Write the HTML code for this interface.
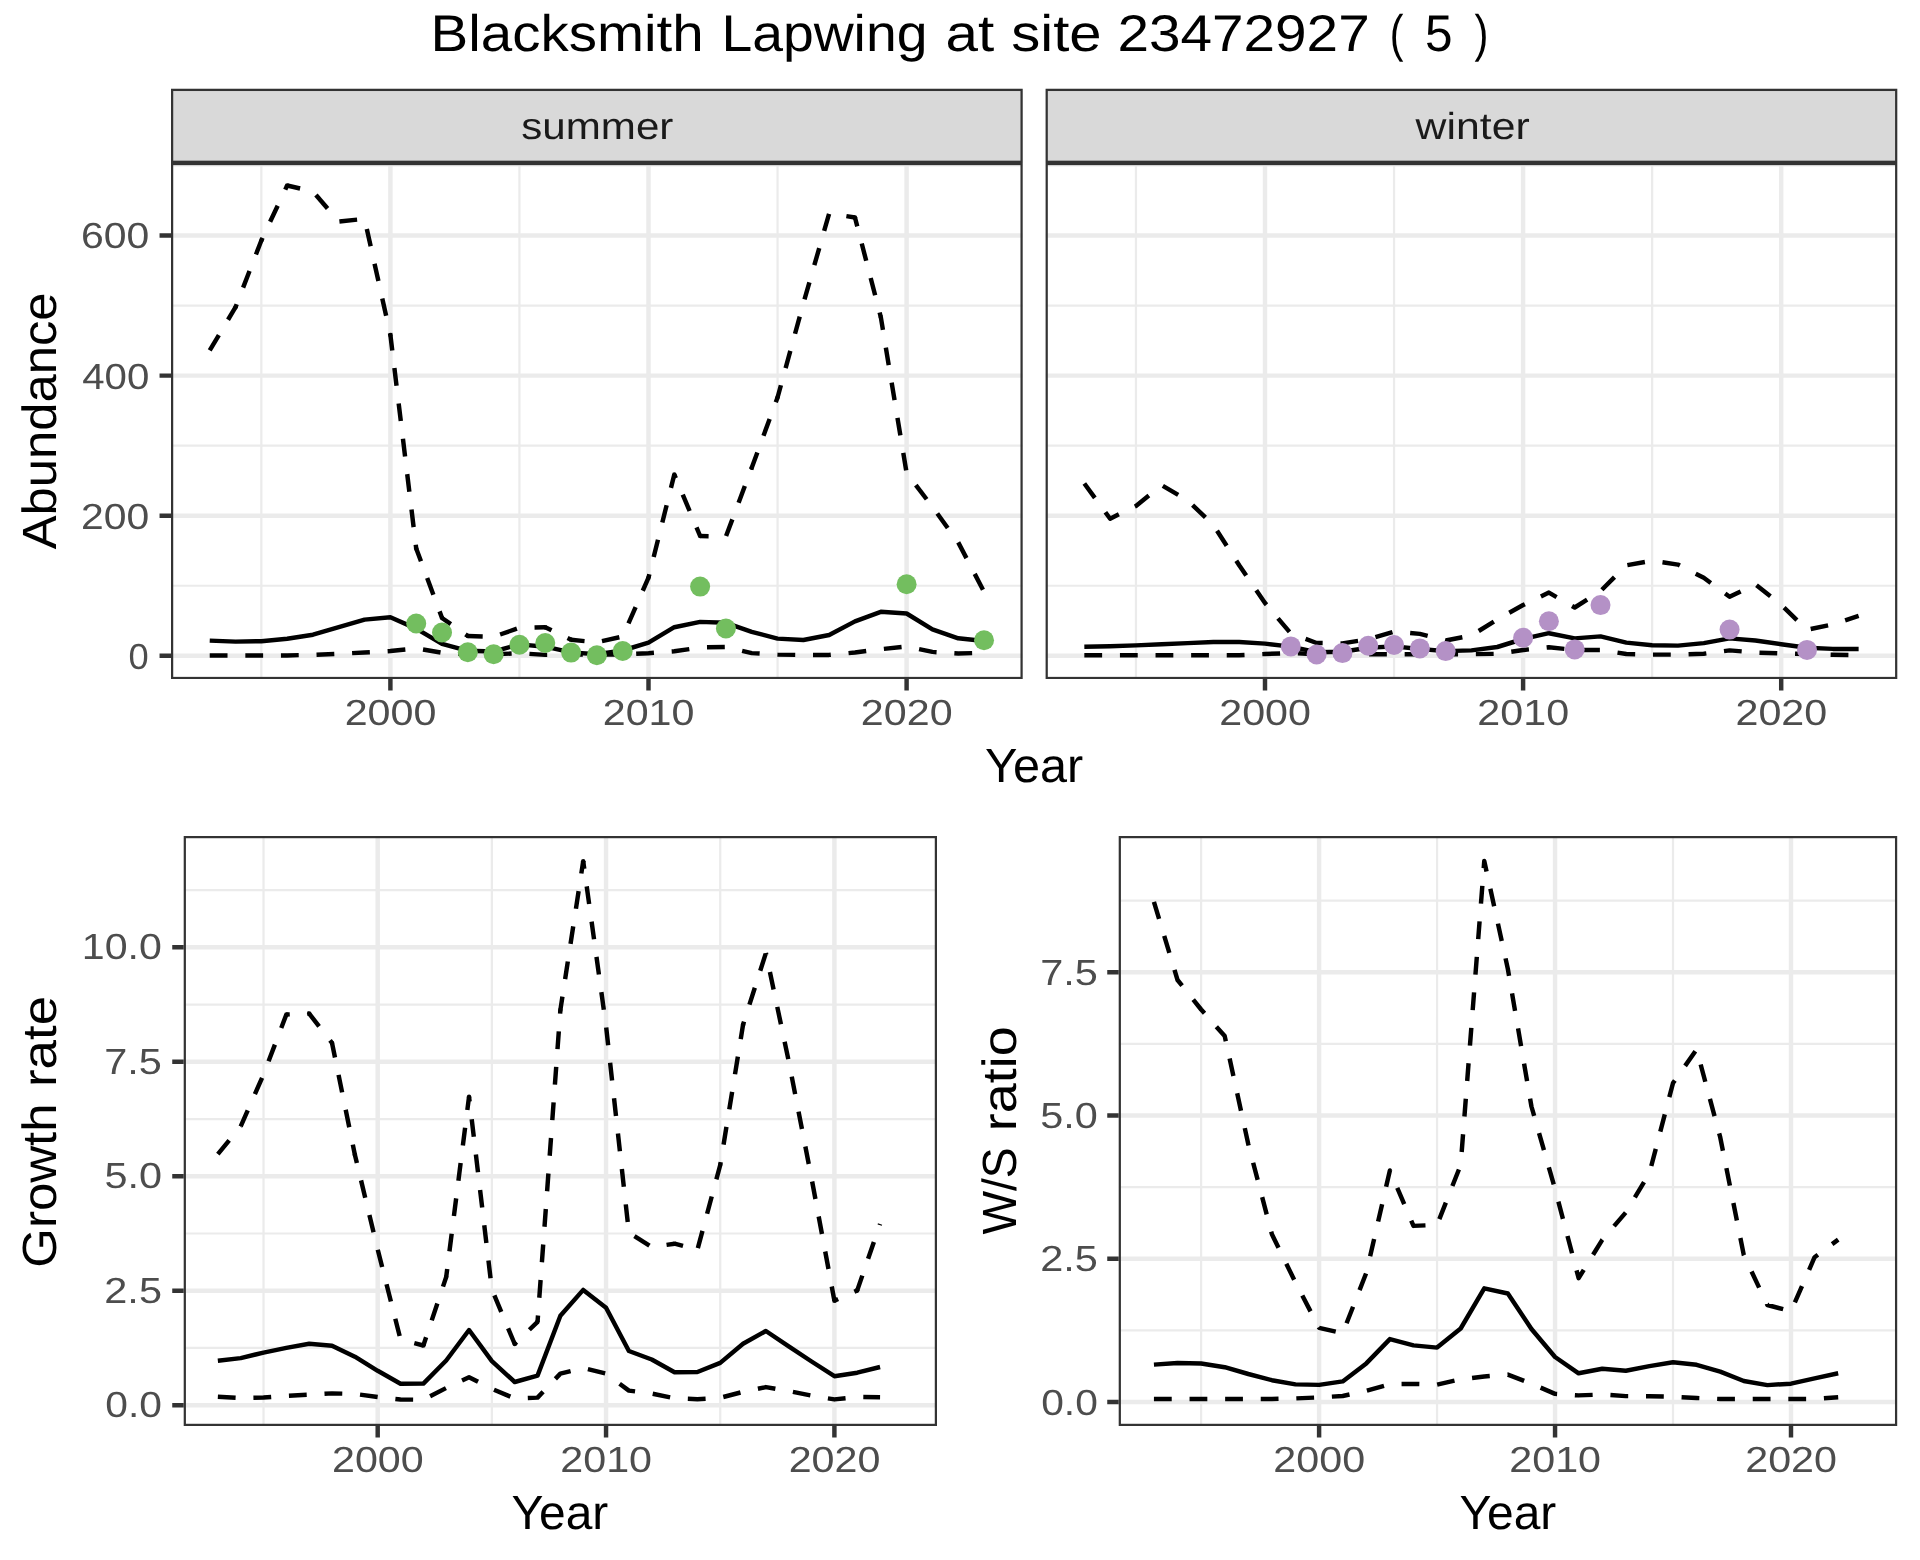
<!DOCTYPE html><html><head><meta charset="utf-8"><title>Blacksmith Lapwing at site 23472927</title>
<style>html,body{margin:0;padding:0;background:#fff;}svg{display:block;}text{font-family:'Liberation Sans',sans-serif;text-rendering:geometricPrecision;}</style></head><body>
<svg xmlns="http://www.w3.org/2000/svg" width="1920" height="1560" viewBox="0 0 1920 1560" style="will-change:transform">
<rect x="0" y="0" width="1920" height="1560" fill="#fff"/>
<defs>
<clipPath id="cTL"><rect x="171" y="162.9" width="851.7" height="516.2"/></clipPath>
<clipPath id="cTR"><rect x="1045.6" y="162.9" width="851.7" height="516.2"/></clipPath>
<clipPath id="cBL"><rect x="183.7" y="836" width="753.3" height="590"/></clipPath>
<clipPath id="cBR"><rect x="1118.7" y="836" width="778.5" height="590"/></clipPath>
<clipPath id="sTL"><rect x="171.0" y="88.8" width="851.7" height="74.1"/></clipPath>
<clipPath id="sTR"><rect x="1045.6" y="88.8" width="851.7" height="74.1"/></clipPath>
</defs>
<g clip-path="url(#cTL)">
<rect x="171" y="162.9" width="851.7" height="516.2" fill="#fff"/>
<path d="M261.35 162.9V679.1M519.45 162.9V679.1M777.55 162.9V679.1M171 585.75H1022.7M171 445.65H1022.7M171 305.55H1022.7M171 165.45H1022.7" stroke="#EBEBEB" stroke-width="2.23" fill="none"/>
<path d="M390.4 162.9V679.1M648.5 162.9V679.1M906.6 162.9V679.1M171 655.8H1022.7M171 515.7H1022.7M171 375.6H1022.7M171 235.5H1022.7" stroke="#EBEBEB" stroke-width="4.45" fill="none"/>
</g>
<g clip-path="url(#cTR)">
<rect x="1045.6" y="162.9" width="851.7" height="516.2" fill="#fff"/>
<path d="M1135.95 162.9V679.1M1394.05 162.9V679.1M1652.15 162.9V679.1M1045.6 585.75H1897.3M1045.6 445.65H1897.3M1045.6 305.55H1897.3M1045.6 165.45H1897.3" stroke="#EBEBEB" stroke-width="2.23" fill="none"/>
<path d="M1265 162.9V679.1M1523.1 162.9V679.1M1781.2 162.9V679.1M1045.6 655.8H1897.3M1045.6 515.7H1897.3M1045.6 375.6H1897.3M1045.6 235.5H1897.3" stroke="#EBEBEB" stroke-width="4.45" fill="none"/>
</g>
<g clip-path="url(#cBL)">
<rect x="183.7" y="836" width="753.3" height="590" fill="#fff"/>
<path d="M263.52 836V1426M491.88 836V1426M720.23 836V1426M183.7 1347.96H937M183.7 1233.49H937M183.7 1119.01H937M183.7 1004.54H937M183.7 890.06H937" stroke="#EBEBEB" stroke-width="2.23" fill="none"/>
<path d="M377.7 836V1426M606.05 836V1426M834.4 836V1426M183.7 1405.2H937M183.7 1290.73H937M183.7 1176.25H937M183.7 1061.78H937M183.7 947.3H937" stroke="#EBEBEB" stroke-width="4.45" fill="none"/>
</g>
<g clip-path="url(#cBR)">
<rect x="1118.7" y="836" width="778.5" height="590" fill="#fff"/>
<path d="M1201.12 836V1426M1437.07 836V1426M1673.02 836V1426M1118.7 1330.36H1897.2M1118.7 1187.09H1897.2M1118.7 1043.81H1897.2M1118.7 900.54H1897.2" stroke="#EBEBEB" stroke-width="2.23" fill="none"/>
<path d="M1319.1 836V1426M1555.05 836V1426M1791 836V1426M1118.7 1402H1897.2M1118.7 1258.72H1897.2M1118.7 1115.45H1897.2M1118.7 972.17H1897.2" stroke="#EBEBEB" stroke-width="4.45" fill="none"/>
</g>
<g clip-path="url(#cTL)">
<polyline points="209.73,640.6 235.54,641.6 261.35,641.2 287.16,638.7 312.97,634.7 338.78,627.2 364.59,619.6 390.4,617.3 416.21,628.6 442.02,643.9 467.83,650.8 493.64,651.5 519.45,644.4 545.26,646.7 571.07,652.4 596.88,654.2 622.69,650.5 648.5,642.6 674.31,627.2 700.12,621.9 725.93,622.8 751.74,631.8 777.55,638.6 803.36,640 829.17,635 854.98,621.4 880.79,611.8 906.6,613.5 932.41,629.4 958.22,638.3 984.03,641" fill="none" stroke="#000" stroke-width="4.45" stroke-linejoin="round" stroke-linecap="butt"/>
<g fill="none" stroke="#000" stroke-width="4.45" stroke-linecap="butt" stroke-dasharray="17.8 17.8"><path d="M209.73 350.3L235.54 307.2" stroke-dashoffset="0.00"/><path d="M235.54 307.2L261.35 240.5" stroke-dashoffset="14.64"/><path d="M261.35 240.5L287.16 185.5" stroke-dashoffset="14.96"/><path d="M287.16 185.5L312.97 191.5" stroke-dashoffset="4.51"/><path d="M312.97 191.5L338.78 221.5" stroke-dashoffset="31.01"/><path d="M338.78 221.5L364.59 218.9" stroke-dashoffset="34.98"/><path d="M364.59 218.9L390.4 335" stroke-dashoffset="25.33"/><path d="M390.4 335L416.21 548.5" stroke-dashoffset="2.27"/><path d="M416.21 548.5L442.02 618" stroke-dashoffset="4.11"/><path d="M442.02 618L467.83 636" stroke-dashoffset="7.05"/><path d="M467.83 636L493.64 636.8" stroke-dashoffset="2.92"/><path d="M493.64 636.8L519.45 627.7" stroke-dashoffset="28.74"/><path d="M519.45 627.7L545.26 627.2" stroke-dashoffset="20.51"/><path d="M545.26 627.2L571.07 639.8" stroke-dashoffset="10.81"/><path d="M571.07 639.8L596.88 642.3" stroke-dashoffset="4.26"/><path d="M596.88 642.3L622.69 636.5" stroke-dashoffset="30.37"/><path d="M622.69 636.5L648.5 577.7" stroke-dashoffset="21.23"/><path d="M648.5 577.7L674.31 474.5" stroke-dashoffset="14.24"/><path d="M674.31 474.5L700.12 536" stroke-dashoffset="13.82"/><path d="M700.12 536L725.93 536.5" stroke-dashoffset="9.32"/><path d="M725.93 536.5L751.74 467.7" stroke-dashoffset="35.13"/><path d="M751.74 467.7L777.55 397.5" stroke-dashoffset="1.53"/><path d="M777.55 397.5L803.36 303.4" stroke-dashoffset="5.10"/><path d="M803.36 303.4L829.17 213.5" stroke-dashoffset="31.46"/><path d="M829.17 213.5L854.98 217.5" stroke-dashoffset="18.18"/><path d="M854.98 217.5L880.79 317" stroke-dashoffset="8.69"/><path d="M880.79 317L906.6 473" stroke-dashoffset="4.66"/><path d="M906.6 473L932.41 506.8" stroke-dashoffset="20.37"/><path d="M932.41 506.8L958.22 542.4" stroke-dashoffset="27.29"/><path d="M958.22 542.4L984.03 591.7" stroke-dashoffset="0.05"/></g>
<circle cx="235.54" cy="307.2" r="2.23" fill="#000"/>
<circle cx="261.35" cy="240.5" r="2.23" fill="#000"/>
<circle cx="287.16" cy="185.5" r="2.23" fill="#000"/>
<circle cx="390.4" cy="335" r="2.23" fill="#000"/>
<circle cx="416.21" cy="548.5" r="2.23" fill="#000"/>
<circle cx="442.02" cy="618" r="2.23" fill="#000"/>
<circle cx="467.83" cy="636" r="2.23" fill="#000"/>
<circle cx="545.26" cy="627.2" r="2.23" fill="#000"/>
<circle cx="571.07" cy="639.8" r="2.23" fill="#000"/>
<circle cx="648.5" cy="577.7" r="2.23" fill="#000"/>
<circle cx="674.31" cy="474.5" r="2.23" fill="#000"/>
<circle cx="700.12" cy="536" r="2.23" fill="#000"/>
<circle cx="751.74" cy="467.7" r="2.23" fill="#000"/>
<circle cx="777.55" cy="397.5" r="2.23" fill="#000"/>
<circle cx="854.98" cy="217.5" r="2.23" fill="#000"/>
<circle cx="880.79" cy="317" r="2.23" fill="#000"/>
<polyline points="209.73,655.5 235.54,655.5 261.35,655.5 287.16,655.4 312.97,654.8 338.78,653.8 364.59,652.5 390.4,651 416.21,648.4 442.02,652.8 467.83,654.5 493.64,654.3 519.45,653.2 545.26,654.9 571.07,654.5 596.88,654.5 622.69,654.5 648.5,653.2 674.31,651.3 700.12,647.5 725.93,646.9 751.74,653.1 777.55,654.6 803.36,655 829.17,654.9 854.98,652.5 880.79,649.2 906.6,646.5 932.41,651.9 958.22,653.5 984.03,652.8" fill="none" stroke="#000" stroke-width="4.45" stroke-linejoin="round" stroke-linecap="butt" stroke-dasharray="17.8 17.8"/>
<circle cx="416.21" cy="623.5" r="10" fill="#73BE5F"/>
<circle cx="442.02" cy="632.5" r="10" fill="#73BE5F"/>
<circle cx="467.83" cy="652.2" r="10" fill="#73BE5F"/>
<circle cx="493.64" cy="654.2" r="10" fill="#73BE5F"/>
<circle cx="519.45" cy="644.7" r="10" fill="#73BE5F"/>
<circle cx="545.26" cy="643" r="10" fill="#73BE5F"/>
<circle cx="571.07" cy="652.6" r="10" fill="#73BE5F"/>
<circle cx="596.88" cy="655.2" r="10" fill="#73BE5F"/>
<circle cx="622.69" cy="651" r="10" fill="#73BE5F"/>
<circle cx="700.12" cy="586.6" r="10" fill="#73BE5F"/>
<circle cx="725.93" cy="628.5" r="10" fill="#73BE5F"/>
<circle cx="906.6" cy="584.2" r="10" fill="#73BE5F"/>
<circle cx="984.03" cy="640.2" r="10" fill="#73BE5F"/>
</g>
<rect clip-path="url(#cTL)" x="171" y="162.9" width="851.7" height="516.2" fill="none" stroke="#333333" stroke-width="4.45"/>
<g clip-path="url(#cTR)">
<polyline points="1084.33,646.7 1110.14,646.3 1135.95,645.4 1161.76,644.3 1187.57,643.1 1213.38,642 1239.19,642 1265,643.6 1290.81,646.6 1316.62,652.2 1342.43,651.8 1368.24,647.7 1394.05,646.4 1419.86,649 1445.67,651.1 1471.48,650.4 1497.29,647 1523.1,639 1548.91,633.2 1574.72,638.4 1600.53,636.4 1626.34,642.6 1652.15,645.2 1677.96,645.6 1703.77,643.1 1729.58,638.4 1755.39,640.5 1781.2,644.2 1807.01,647.8 1832.82,648.9 1858.63,648.9" fill="none" stroke="#000" stroke-width="4.45" stroke-linejoin="round" stroke-linecap="butt"/>
<polyline points="1084.33,483.5 1110.14,518.7 1135.95,505.9 1161.76,485.2 1187.57,500.3 1213.38,525.1 1239.19,565.2 1265,603 1290.81,633.5 1316.62,643 1342.43,643.4 1368.24,639.3 1394.05,631.6 1419.86,633.9 1445.67,640.5 1471.48,635.5 1497.29,619.5 1523.1,605 1548.91,592.6 1574.72,607.5 1600.53,591.1 1626.34,565.3 1652.15,560.8 1677.96,564.6 1703.77,577.8 1729.58,596.8 1755.39,584.3 1781.2,604.9 1807.01,629.8 1832.82,624.4 1858.63,615.8" fill="none" stroke="#000" stroke-width="4.45" stroke-linejoin="round" stroke-linecap="butt" stroke-dasharray="17.8 17.8"/>
<polyline points="1084.33,655.2 1110.14,655.2 1135.95,655.2 1161.76,655.2 1187.57,655.2 1213.38,655.2 1239.19,655.2 1265,654 1290.81,653 1316.62,654.2 1342.43,654.2 1368.24,654.2 1394.05,654.2 1419.86,654.2 1445.67,654.2 1471.48,654.2 1497.29,653.8 1523.1,650 1548.91,647.3 1574.72,649.9 1600.53,649.9 1626.34,654 1652.15,654.6 1677.96,654.6 1703.77,653.75 1729.58,650.4 1755.39,652.5 1781.2,653.5 1807.01,654 1832.82,654.8 1858.63,655.1" fill="none" stroke="#000" stroke-width="4.45" stroke-linejoin="round" stroke-linecap="butt" stroke-dasharray="17.8 17.8"/>
<circle cx="1290.81" cy="646.4" r="10" fill="#B491C6"/>
<circle cx="1316.62" cy="654.5" r="10" fill="#B491C6"/>
<circle cx="1342.43" cy="653.1" r="10" fill="#B491C6"/>
<circle cx="1368.24" cy="645.7" r="10" fill="#B491C6"/>
<circle cx="1394.05" cy="645" r="10" fill="#B491C6"/>
<circle cx="1419.86" cy="648.4" r="10" fill="#B491C6"/>
<circle cx="1445.67" cy="651.1" r="10" fill="#B491C6"/>
<circle cx="1523.1" cy="637.7" r="10" fill="#B491C6"/>
<circle cx="1548.91" cy="621.3" r="10" fill="#B491C6"/>
<circle cx="1574.72" cy="649.4" r="10" fill="#B491C6"/>
<circle cx="1600.53" cy="605.1" r="10" fill="#B491C6"/>
<circle cx="1729.58" cy="629.6" r="10" fill="#B491C6"/>
<circle cx="1807.01" cy="649.9" r="10" fill="#B491C6"/>
</g>
<rect clip-path="url(#cTR)" x="1045.6" y="162.9" width="851.7" height="516.2" fill="none" stroke="#333333" stroke-width="4.45"/>
<g clip-path="url(#cBL)">
<polyline points="217.85,1360.8 240.69,1358.1 263.52,1352.6 286.36,1347.9 309.19,1343.7 332.03,1345.7 354.87,1356.7 377.7,1370.8 400.53,1383.8 423.37,1383.6 446.2,1360.5 469.04,1330 491.88,1361.1 514.71,1382 537.54,1375.6 560.38,1315.7 583.22,1289.9 606.05,1307.7 628.88,1351 651.72,1359.5 674.56,1372.3 697.39,1372 720.23,1362.9 743.06,1343.7 765.89,1331 788.73,1346.3 811.57,1361.5 834.4,1376.2 857.24,1372.7 880.07,1367" fill="none" stroke="#000" stroke-width="4.45" stroke-linejoin="round" stroke-linecap="butt"/>
<g fill="none" stroke="#000" stroke-width="4.45" stroke-linecap="butt" stroke-dasharray="17.8 17.8"><path d="M217.85 1154.1L240.69 1126.4" stroke-dashoffset="0.00"/><path d="M240.69 1126.4L263.52 1074.5" stroke-dashoffset="0.30"/><path d="M263.52 1074.5L286.36 1014.5" stroke-dashoffset="21.40"/><path d="M286.36 1014.5L309.19 1013.6" stroke-dashoffset="14.40"/><path d="M309.19 1013.6L332.03 1043" stroke-dashoffset="1.65"/><path d="M332.03 1043L354.87 1154.7" stroke-dashoffset="3.04"/><path d="M354.87 1154.7L377.7 1249.5" stroke-dashoffset="9.19"/><path d="M377.7 1249.5L400.53 1339.5" stroke-dashoffset="35.30"/><path d="M400.53 1339.5L423.37 1345.5" stroke-dashoffset="21.35"/><path d="M423.37 1345.5L446.2 1277" stroke-dashoffset="9.15"/><path d="M446.2 1277L469.04 1096.7" stroke-dashoffset="9.76"/><path d="M469.04 1096.7L491.88 1289.5" stroke-dashoffset="12.96"/><path d="M491.88 1289.5L514.71 1344" stroke-dashoffset="29.13"/><path d="M514.71 1344L537.54 1321.8" stroke-dashoffset="15.15"/><path d="M537.54 1321.8L560.38 1010" stroke-dashoffset="11.47"/><path d="M560.38 1010L583.22 861.2" stroke-dashoffset="4.33"/><path d="M583.22 861.2L606.05 1026" stroke-dashoffset="10.17"/><path d="M606.05 1026L628.88 1232.5" stroke-dashoffset="34.14"/><path d="M628.88 1232.5L651.72 1247.1" stroke-dashoffset="29.00"/><path d="M651.72 1247.1L674.56 1243.7" stroke-dashoffset="20.61"/><path d="M674.56 1243.7L697.39 1249.8" stroke-dashoffset="9.05"/><path d="M697.39 1249.8L720.23 1165" stroke-dashoffset="33.83"/><path d="M720.23 1165L743.06 1024.7" stroke-dashoffset="14.85"/><path d="M743.06 1024.7L765.89 953" stroke-dashoffset="14.60"/><path d="M765.89 953L788.73 1061.2" stroke-dashoffset="16.13"/><path d="M788.73 1061.2L811.57 1178.4" stroke-dashoffset="19.88"/><path d="M811.57 1178.4L834.4 1300.7" stroke-dashoffset="32.44"/><path d="M834.4 1300.7L857.24 1290.4" stroke-dashoffset="13.71"/><path d="M857.24 1290.4L880.07 1224" stroke-dashoffset="2.20"/></g>
<circle cx="286.36" cy="1014.5" r="2.23" fill="#000"/>
<circle cx="309.19" cy="1013.6" r="2.23" fill="#000"/>
<circle cx="332.03" cy="1043" r="2.23" fill="#000"/>
<circle cx="354.87" cy="1154.7" r="2.23" fill="#000"/>
<circle cx="423.37" cy="1345.5" r="2.23" fill="#000"/>
<circle cx="446.2" cy="1277" r="2.23" fill="#000"/>
<circle cx="469.04" cy="1096.7" r="2.23" fill="#000"/>
<circle cx="514.71" cy="1344" r="2.23" fill="#000"/>
<circle cx="537.54" cy="1321.8" r="2.23" fill="#000"/>
<circle cx="560.38" cy="1010" r="2.23" fill="#000"/>
<circle cx="583.22" cy="861.2" r="2.23" fill="#000"/>
<circle cx="674.56" cy="1243.7" r="2.23" fill="#000"/>
<circle cx="720.23" cy="1165" r="2.23" fill="#000"/>
<circle cx="743.06" cy="1024.7" r="2.23" fill="#000"/>
<circle cx="834.4" cy="1300.7" r="2.23" fill="#000"/>
<circle cx="857.24" cy="1290.4" r="2.23" fill="#000"/>
<polyline points="217.85,1396.7 240.69,1398 263.52,1397.5 286.36,1395.8 309.19,1394.7 332.03,1393.4 354.87,1393.9 377.7,1397 400.53,1399.5 423.37,1399.7 446.2,1388 469.04,1377.3 491.88,1388.8 514.71,1398.5 537.54,1397.6 560.38,1373.6 583.22,1368 606.05,1373.6 628.88,1390.6 651.72,1393.5 674.56,1398.3 697.39,1399.2 720.23,1397.8 743.06,1391.8 765.89,1387.1 788.73,1391.1 811.57,1395.6 834.4,1399.4 857.24,1397 880.07,1397.3" fill="none" stroke="#000" stroke-width="4.45" stroke-linejoin="round" stroke-linecap="butt" stroke-dasharray="17.8 17.8"/>
</g>
<rect clip-path="url(#cBL)" x="183.7" y="836" width="753.3" height="590" fill="none" stroke="#333333" stroke-width="4.45"/>
<g clip-path="url(#cBR)">
<polyline points="1153.93,1364.6 1177.53,1363 1201.12,1363.5 1224.72,1367.2 1248.31,1374 1271.91,1380.2 1295.5,1384.4 1319.1,1384.9 1342.69,1381.4 1366.29,1363.4 1389.88,1339.1 1413.48,1345.4 1437.07,1347.6 1460.67,1328.5 1484.26,1288.3 1507.86,1293.5 1531.45,1329 1555.05,1357 1578.64,1373.3 1602.24,1368.7 1625.84,1370.7 1649.43,1366.1 1673.02,1362.2 1696.62,1364.8 1720.21,1371.6 1743.81,1381 1767.4,1385.1 1791,1383.7 1814.59,1378.3 1838.19,1373.3" fill="none" stroke="#000" stroke-width="4.45" stroke-linejoin="round" stroke-linecap="butt"/>
<polyline points="1153.93,901.8 1177.53,980 1201.12,1009.5 1224.72,1036.1 1248.31,1144.3 1271.91,1234.3 1295.5,1282.5 1319.1,1327.8 1342.69,1333.2 1366.29,1272.9 1389.88,1170.5 1413.48,1225.9 1437.07,1224.9 1460.67,1165 1484.26,861 1507.86,969 1531.45,1106.5 1555.05,1189 1578.64,1278.2 1602.24,1239.8 1625.84,1212.4 1649.43,1173.1 1673.02,1083 1696.62,1049.5 1720.21,1137.2 1743.81,1255.1 1767.4,1305 1791,1311.3 1814.59,1257.2 1838.19,1239.6" fill="none" stroke="#000" stroke-width="4.45" stroke-linejoin="round" stroke-linecap="butt" stroke-dasharray="17.8 17.8"/>
<polyline points="1153.93,1399 1177.53,1399 1201.12,1399 1224.72,1399 1248.31,1399 1271.91,1399 1295.5,1398.4 1319.1,1397.4 1342.69,1396 1366.29,1390.9 1389.88,1384.1 1413.48,1383.9 1437.07,1384.6 1460.67,1379.3 1484.26,1376.5 1507.86,1374.6 1531.45,1383.7 1555.05,1393.9 1578.64,1395.4 1602.24,1394.5 1625.84,1396.1 1649.43,1396.2 1673.02,1396.7 1696.62,1398 1720.21,1399 1743.81,1399 1767.4,1398.9 1791,1398.9 1814.59,1398.9 1838.19,1397.2" fill="none" stroke="#000" stroke-width="4.45" stroke-linejoin="round" stroke-linecap="butt" stroke-dasharray="17.8 17.8"/>
</g>
<rect clip-path="url(#cBR)" x="1118.7" y="836" width="778.5" height="590" fill="none" stroke="#333333" stroke-width="4.45"/>
<rect clip-path="url(#sTL)" x="171.0" y="88.8" width="851.7" height="74.1" fill="#D9D9D9" stroke="#333333" stroke-width="4.45"/>
<rect clip-path="url(#sTR)" x="1045.6" y="88.8" width="851.7" height="74.1" fill="#D9D9D9" stroke="#333333" stroke-width="4.45"/>
<path d="M390.4 679.1V690.56M648.5 679.1V690.56M906.6 679.1V690.56M159.54 655.8H171M159.54 515.7H171M159.54 375.6H171M159.54 235.5H171" stroke="#333333" stroke-width="4.45" fill="none"/>
<path d="M1265 679.1V690.56M1523.1 679.1V690.56M1781.2 679.1V690.56" stroke="#333333" stroke-width="4.45" fill="none"/>
<path d="M377.7 1426V1437.46M606.05 1426V1437.46M834.4 1426V1437.46M172.24 1405.2H183.7M172.24 1290.73H183.7M172.24 1176.25H183.7M172.24 1061.78H183.7M172.24 947.3H183.7" stroke="#333333" stroke-width="4.45" fill="none"/>
<path d="M1319.1 1426V1437.46M1555.05 1426V1437.46M1791 1426V1437.46M1107.24 1402H1118.7M1107.24 1258.72H1118.7M1107.24 1115.45H1118.7M1107.24 972.17H1118.7" stroke="#333333" stroke-width="4.45" fill="none"/>
<text x="430.51" y="50.7" font-size="51.5" fill="#000" textLength="273.16" lengthAdjust="spacingAndGlyphs">Blacksmith</text>
<text x="721.4" y="50.7" font-size="51.5" fill="#000" textLength="206.05" lengthAdjust="spacingAndGlyphs">Lapwing</text>
<text x="945.53" y="50.7" font-size="51.5" fill="#000" textLength="48.72" lengthAdjust="spacingAndGlyphs">at</text>
<text x="1011.33" y="50.7" font-size="51.5" fill="#000" textLength="90.3" lengthAdjust="spacingAndGlyphs">site</text>
<text x="1117.54" y="50.7" font-size="51.5" fill="#000" textLength="252.12" lengthAdjust="spacingAndGlyphs">23472927</text>
<text x="1389.81" y="50.7" font-size="51.5" fill="#000" textLength="13.7" lengthAdjust="spacingAndGlyphs">(</text>
<text x="1424.88" y="50.7" font-size="51.5" fill="#000" textLength="27.54" lengthAdjust="spacingAndGlyphs">5</text>
<text x="1474.55" y="50.7" font-size="51.5" fill="#000" textLength="13.91" lengthAdjust="spacingAndGlyphs">)</text>
<text x="521.28" y="138.9" font-size="37.5" fill="#1A1A1A" textLength="152.11" lengthAdjust="spacingAndGlyphs">summer</text>
<text x="1415.6" y="138.8" font-size="37.5" fill="#1A1A1A" textLength="114.06" lengthAdjust="spacingAndGlyphs">winter</text>
<text x="985.09" y="781.7" font-size="48" fill="#000" textLength="98.12" lengthAdjust="spacingAndGlyphs">Year</text>
<text x="511.5" y="1528.5" font-size="48" fill="#000" textLength="96.79" lengthAdjust="spacingAndGlyphs">Year</text>
<text x="1459.5" y="1528.5" font-size="48" fill="#000" textLength="96.79" lengthAdjust="spacingAndGlyphs">Year</text>
<text x="56" y="549.3" font-size="48" fill="#000" textLength="256.9" lengthAdjust="spacingAndGlyphs" transform="rotate(-90 56 549.3)">Abundance</text>
<text x="55.9" y="1267.73" font-size="48" fill="#000" textLength="164.41" lengthAdjust="spacingAndGlyphs" transform="rotate(-90 55.9 1267.73)">Growth</text>
<text x="55.9" y="1087.11" font-size="48" fill="#000" textLength="91.31" lengthAdjust="spacingAndGlyphs" transform="rotate(-90 55.9 1087.11)">rate</text>
<text x="1015.9" y="1234.6" font-size="48" fill="#000" textLength="87.19" lengthAdjust="spacingAndGlyphs" transform="rotate(-90 1015.9 1234.6)">W/S</text>
<text x="1015.9" y="1131.27" font-size="48" fill="#000" textLength="104.98" lengthAdjust="spacingAndGlyphs" transform="rotate(-90 1015.9 1131.27)">ratio</text>
<text x="128.6" y="668.7" font-size="36.3" fill="#4D4D4D" textLength="20.19" lengthAdjust="spacingAndGlyphs">0</text>
<text x="81.14" y="528.6" font-size="36.3" fill="#4D4D4D" textLength="68.22" lengthAdjust="spacingAndGlyphs">200</text>
<text x="82.28" y="388.5" font-size="36.3" fill="#4D4D4D" textLength="67.05" lengthAdjust="spacingAndGlyphs">400</text>
<text x="81.1" y="248.4" font-size="36.3" fill="#4D4D4D" textLength="68.27" lengthAdjust="spacingAndGlyphs">600</text>
<text x="344.68" y="725.1" font-size="36.3" fill="#4D4D4D" textLength="91.68" lengthAdjust="spacingAndGlyphs">2000</text>
<text x="602.78" y="725.1" font-size="36.3" fill="#4D4D4D" textLength="91.68" lengthAdjust="spacingAndGlyphs">2010</text>
<text x="860.88" y="725.1" font-size="36.3" fill="#4D4D4D" textLength="91.68" lengthAdjust="spacingAndGlyphs">2020</text>
<text x="1219.28" y="725.1" font-size="36.3" fill="#4D4D4D" textLength="91.68" lengthAdjust="spacingAndGlyphs">2000</text>
<text x="1477.38" y="725.1" font-size="36.3" fill="#4D4D4D" textLength="91.68" lengthAdjust="spacingAndGlyphs">2010</text>
<text x="1735.48" y="725.1" font-size="36.3" fill="#4D4D4D" textLength="91.68" lengthAdjust="spacingAndGlyphs">2020</text>
<text x="331.98" y="1472" font-size="36.3" fill="#4D4D4D" textLength="91.68" lengthAdjust="spacingAndGlyphs">2000</text>
<text x="560.33" y="1472" font-size="36.3" fill="#4D4D4D" textLength="91.68" lengthAdjust="spacingAndGlyphs">2010</text>
<text x="788.68" y="1472" font-size="36.3" fill="#4D4D4D" textLength="91.68" lengthAdjust="spacingAndGlyphs">2020</text>
<text x="1273.38" y="1472" font-size="36.3" fill="#4D4D4D" textLength="91.68" lengthAdjust="spacingAndGlyphs">2000</text>
<text x="1509.33" y="1472" font-size="36.3" fill="#4D4D4D" textLength="91.68" lengthAdjust="spacingAndGlyphs">2010</text>
<text x="1745.28" y="1472" font-size="36.3" fill="#4D4D4D" textLength="91.68" lengthAdjust="spacingAndGlyphs">2020</text>
<text x="105.28" y="1417.2" font-size="36.3" fill="#4D4D4D" textLength="56.67" lengthAdjust="spacingAndGlyphs">0.0</text>
<text x="104.31" y="1302.7" font-size="36.3" fill="#4D4D4D" textLength="57.67" lengthAdjust="spacingAndGlyphs">2.5</text>
<text x="104.4" y="1188.3" font-size="36.3" fill="#4D4D4D" textLength="57.58" lengthAdjust="spacingAndGlyphs">5.0</text>
<text x="104.27" y="1073.8" font-size="36.3" fill="#4D4D4D" textLength="57.7" lengthAdjust="spacingAndGlyphs">7.5</text>
<text x="81.87" y="959.3" font-size="36.3" fill="#4D4D4D" textLength="80.03" lengthAdjust="spacingAndGlyphs">10.0</text>
<text x="1041.18" y="1414.5" font-size="36.3" fill="#4D4D4D" textLength="56.67" lengthAdjust="spacingAndGlyphs">0.0</text>
<text x="1040.21" y="1271.2" font-size="36.3" fill="#4D4D4D" textLength="57.67" lengthAdjust="spacingAndGlyphs">2.5</text>
<text x="1040.3" y="1128" font-size="36.3" fill="#4D4D4D" textLength="57.58" lengthAdjust="spacingAndGlyphs">5.0</text>
<text x="1040.17" y="984.7" font-size="36.3" fill="#4D4D4D" textLength="57.7" lengthAdjust="spacingAndGlyphs">7.5</text>
</svg></body></html>
